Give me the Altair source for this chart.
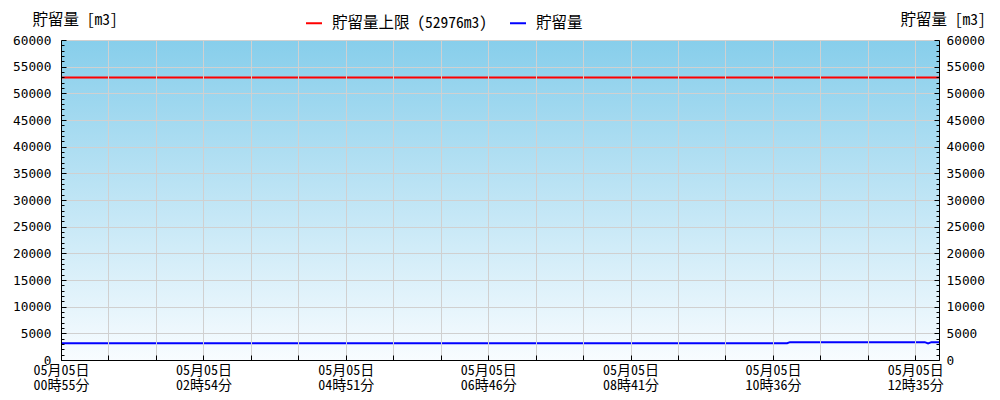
import altair as alt
import pandas as pd

# ---------------- data ----------------
series_names = ["貯留量上限 (52976m3)", "貯留量"]
series_colors = ["#ff0000", "#0000ff"]

limit_x = [0, 18.5]
limit_y = [52976, 52976]

storage_x = [0, 15.3, 15.36, 18.2, 18.27, 18.34, 18.5]
storage_y = [3150, 3150, 3350, 3350, 3100, 3350, 3350]

tick_dates = ["05月05日"] * 7
tick_times = ["00時55分", "02時54分", "04時51分", "06時46分", "08時41分", "10時36分", "12時35分"]

y_title = "貯留量 [m3]"

# plot-area extent (x index range, y value range)
area_x = [0, 18.5]
area_y = [0, 60000]

FONT = "Noto Sans Mono CJK JP, Noto Sans CJK JP, monospace"
FONT_NUM = "DejaVu Sans Mono, Noto Sans Mono CJK JP, monospace"
FS = 15.5
FS_X = 14
FS_NUM = 12.8
W, H = 878, 320
GRID = "#d0d0d0"

rows = []
for xv, yv in zip(limit_x, limit_y):
    rows.append({"x": xv, "y": yv, "series": series_names[0]})
for xv, yv in zip(storage_x, storage_y):
    rows.append({"x": xv, "y": yv, "series": series_names[1]})
df = pd.DataFrame(rows)
bg = pd.DataFrame({"x0": [area_x[0]], "x1": [area_x[1]], "y0": [area_y[0]], "y1": [area_y[1]]})

arr = "[" + ",".join(f"['{d}','{t}']" for d, t in zip(tick_dates, tick_times)) + "]"
label_expr = f"datum.value % 3 === 0 ? {arr}[datum.value / 3] : ''"

x_scale = alt.Scale(domain=area_x, nice=False, zero=False)
y_scale = alt.Scale(domain=area_y, nice=False)
x_vals = list(range(0, 19))
y_major = list(range(0, 60001, 5000))
y_minor = list(range(0, 60001, 1000))
tick_cond = {"condition": {"test": "datum.value % 5000 === 0", "value": 5}, "value": 3}

title_style = dict(titleFont=FONT, titleFontSize=FS, titleColor="#000000",
                   titleFontWeight="normal")
ylab_style = dict(labelFont=FONT_NUM, labelFontSize=FS_NUM, labelColor="#000000",
                  labelLimit=0)

gradient = alt.LinearGradient(gradient="linear",
                              stops=[alt.GradientStop(color="#87ceeb", offset=0),
                                     alt.GradientStop(color="#f8fcff", offset=1)],
                              x1=0, x2=0, y1=0, y2=1)

background = alt.Chart(bg).mark_rect(color=gradient).encode(
    x=alt.X("x0:Q", scale=x_scale, axis=None),
    x2="x1:Q",
    y=alt.Y("y0:Q", scale=y_scale, axis=None),
    y2="y1:Q",
)

# data lines, left y axis with labels and grid, bottom x axis
lines = alt.Chart(df).mark_line(strokeWidth=2, clip=True).encode(
    x=alt.X("x:Q", scale=x_scale, axis=alt.Axis(
        orient="bottom", values=x_vals, labelExpr=label_expr, ticks=False,
        grid=True, gridColor=GRID, domainColor="#000000", domainWidth=1,
        labelOverlap=False, labelFlush=False, labelPadding=3, labelLineHeight=15,
        labelFont=FONT, labelFontSize=FS_X, labelColor="#000000", labelLimit=0,
        title=None, labelBaseline="top", zindex=1)),
    y=alt.Y("y:Q", scale=y_scale, axis=alt.Axis(
        orient="left", values=y_major, format="d", ticks=False, grid=True,
        gridColor=GRID, domainColor="#000000", labelPadding=10,
        labelBaseline="middle", title=y_title, titleAngle=0, titleAlign="left",
        titleBaseline="middle", titleX=-29, titleY=-21, zindex=1,
        **ylab_style, **title_style)),
    color=alt.Color("series:N", scale=alt.Scale(domain=series_names, range=series_colors),
                    legend=alt.Legend(orient="none", legendX=244, legendY=-26,
                                      direction="horizontal", title=None,
                                      symbolType="stroke", symbolSize=256,
                                      symbolStrokeWidth=2, labelFont=FONT,
                                      labelFontSize=FS, labelColor="#000000",
                                      labelOffset=9, columnPadding=18, labelLimit=0)),
)

# inward ticks on left edge (right-oriented axis moved left) + inward x ticks
ticks_left = alt.Chart(df).mark_line(strokeOpacity=0).encode(
    x=alt.X("x:Q", scale=x_scale, axis=alt.Axis(
        orient="top", offset=-H, values=x_vals, labels=False, domain=False,
        grid=False, tickSize=5, tickColor="#000000", title=None, zindex=2)),
    y=alt.Y("y:Q", scale=y_scale, axis=alt.Axis(
        orient="right", offset=-W, values=y_minor, labels=False, domain=False,
        grid=False, tickSize=tick_cond, tickColor="#000000", title=None, zindex=2)),
)

# right axis labels
right_lab = alt.Chart(df).mark_line(strokeOpacity=0).encode(
    x=alt.X("x:Q", scale=x_scale, axis=None),
    y=alt.Y("y:Q", scale=y_scale, axis=alt.Axis(
        orient="right", values=y_major, format="d", ticks=False, grid=False,
        domainColor="#000000", labelPadding=7, labelBaseline="middle",
        title=y_title, titleAngle=0, titleAlign="left", titleBaseline="middle",
        titleX=-39, titleY=-21, zindex=2, **ylab_style, **title_style)),
)

# inward ticks on right edge
ticks_right = alt.Chart(df).mark_line(strokeOpacity=0).encode(
    x=alt.X("x:Q", scale=x_scale, axis=None),
    y=alt.Y("y:Q", scale=y_scale, axis=alt.Axis(
        orient="left", offset=-W, values=y_minor, labels=False, domain=False,
        grid=False, tickSize=tick_cond, tickColor="#000000", title=None, zindex=2)),
)

chart = alt.layer(background, lines, ticks_left, right_lab, ticks_right).resolve_scale(
    x="independent", y="independent", color="independent"
).resolve_axis(x="independent", y="independent").properties(
    width=W, height=H,
    autosize=alt.AutoSizeParams(type="none"),
    padding={"left": 53, "top": 32, "right": 53, "bottom": 32},
).configure_view(stroke=None).configure(background="#ffffff")

chart.save("out.html", embed_options={"renderer": "svg", "actions": False})
